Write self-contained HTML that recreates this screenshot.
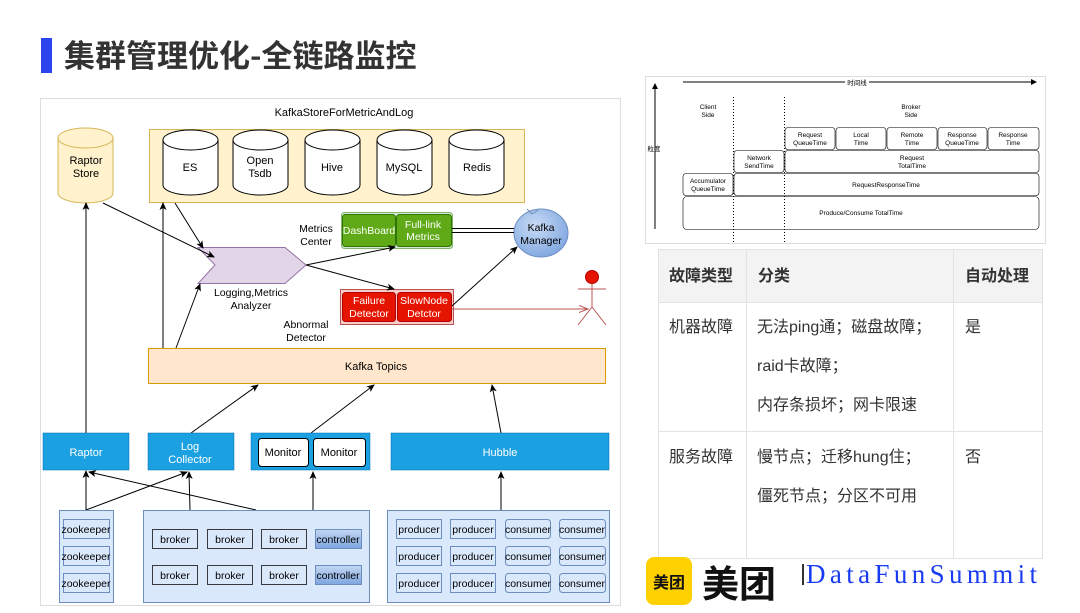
<!DOCTYPE html>
<html><head><meta charset="utf-8"><style>
html,body{margin:0;padding:0;background:#fff;}
body{width:1080px;height:608px;overflow:hidden;position:relative;font-family:"Liberation Sans","Noto Sans CJK SC",sans-serif;}
svg text{font-family:"Liberation Sans","Noto Sans CJK SC",sans-serif;}
</style></head><body>
<svg width="1080" height="608" viewBox="0 0 1080 608" xmlns="http://www.w3.org/2000/svg">
<defs>
<marker id="ah" markerWidth="8" markerHeight="8" refX="7" refY="4" orient="auto" markerUnits="userSpaceOnUse"><path d="M0,0.5 L8,4 L0,7.5 L2,4 z" fill="#000"/></marker>
<marker id="ahr" markerWidth="10" markerHeight="8" refX="9" refY="4" orient="auto" markerUnits="userSpaceOnUse"><path d="M0,0.5 L9,4 L0,7.5" fill="none" stroke="#b85450"/></marker>
<marker id="ahs" markerWidth="6" markerHeight="6" refX="5" refY="3" orient="auto" markerUnits="userSpaceOnUse"><path d="M0,0 L6,3 L0,6 z" fill="#000"/></marker>
<linearGradient id="ctl" x1="0" y1="0" x2="0" y2="1"><stop offset="0" stop-color="#c3d6f2"/><stop offset="1" stop-color="#7ea6e0"/></linearGradient>
<radialGradient id="km" cx="0.4" cy="0.35" r="0.7"><stop offset="0" stop-color="#c9dbf5"/><stop offset="1" stop-color="#7ea6e0"/></radialGradient>
</defs>

<!-- Title -->
<rect x="41" y="38" width="11" height="35" fill="#2c44f0"/>
<text x="64" y="67" font-size="31" font-weight="bold" fill="#333" style="font-family:'Noto Sans CJK SC',sans-serif">集群管理优化-全链路监控</text>

<!-- Left panel -->
<rect x="40.5" y="98.5" width="580" height="507" fill="#fff" stroke="#ddd"/>
<text x="344" y="116" font-size="11" text-anchor="middle">KafkaStoreForMetricAndLog</text>
<rect x="149.5" y="129.5" width="375" height="73" fill="#fff2cc" stroke="#d6b656"/>

<g stroke="#d6b656" fill="#fff2cc">
<path d="M58,138 v55 a27.5,10 0 0 0 55,0 v-55"/>
<ellipse cx="85.5" cy="138" rx="27.5" ry="10"/>
</g>
<text x="86" y="164" font-size="11" text-anchor="middle">Raptor</text>
<text x="86" y="177" font-size="11" text-anchor="middle">Store</text>

<g stroke="#000" fill="#fff">
<path d="M163,140 v45 a27.5,10 0 0 0 55,0 v-45"/><ellipse cx="190.5" cy="140" rx="27.5" ry="10"/>
<path d="M233,140 v45 a27.5,10 0 0 0 55,0 v-45"/><ellipse cx="260.5" cy="140" rx="27.5" ry="10"/>
<path d="M305,140 v45 a27.5,10 0 0 0 55,0 v-45"/><ellipse cx="332.5" cy="140" rx="27.5" ry="10"/>
<path d="M377,140 v45 a27.5,10 0 0 0 55,0 v-45"/><ellipse cx="404.5" cy="140" rx="27.5" ry="10"/>
<path d="M449,140 v45 a27.5,10 0 0 0 55,0 v-45"/><ellipse cx="476.5" cy="140" rx="27.5" ry="10"/>
</g>
<g font-size="11" text-anchor="middle">
<text x="190" y="171">ES</text>
<text x="260" y="164">Open</text><text x="260" y="177">Tsdb</text>
<text x="332" y="171">Hive</text>
<text x="404" y="171">MySQL</text>
<text x="477" y="171">Redis</text>
</g>

<text x="316" y="232" font-size="10.5" text-anchor="middle">Metrics</text>
<text x="316" y="245" font-size="10.5" text-anchor="middle">Center</text>
<rect x="341.5" y="212.5" width="111" height="36" rx="3" fill="#d5e8d4" stroke="#82b366"/>
<rect x="342.5" y="214.5" width="53" height="32" rx="3" fill="#60a917" stroke="#2d7600"/>
<rect x="396.5" y="214.5" width="55" height="32" rx="3" fill="#60a917" stroke="#2d7600"/>
<text x="369" y="234" font-size="10.5" fill="#fff" text-anchor="middle">DashBoard</text>
<text x="423" y="228" font-size="10.5" fill="#fff" text-anchor="middle">Full-link</text>
<text x="423" y="240" font-size="10.5" fill="#fff" text-anchor="middle">Metrics</text>

<ellipse cx="541" cy="233" rx="27" ry="24" fill="url(#km)" stroke="#6c8ebf"/>
<path d="M532,214 l-5,-5 m5,5 l6,-4" stroke="#6c8ebf" fill="none"/>
<text x="541" y="231" font-size="10.5" text-anchor="middle">Kafka</text>
<text x="541" y="244" font-size="10.5" text-anchor="middle">Manager</text>
<line x1="452" y1="228.5" x2="514" y2="228.5" stroke="#000"/>
<line x1="452" y1="232.5" x2="514" y2="232.5" stroke="#000"/>

<path d="M198,247.5 L285,247.5 L306,265 L285,283.5 L198,283.5 L215,265 Z" fill="#e1d5e7" stroke="#9673a6"/>
<text x="251" y="296" font-size="10.5" text-anchor="middle">Logging,Metrics</text>
<text x="251" y="309" font-size="10.5" text-anchor="middle">Analyzer</text>

<rect x="340.5" y="289.5" width="113" height="35" fill="#f8cecc" stroke="#b85450"/>
<rect x="342.5" y="292.5" width="53" height="29" rx="3" fill="#e51400" stroke="#b20000"/>
<rect x="397.5" y="292.5" width="54" height="29" rx="3" fill="#e51400" stroke="#b20000"/>
<text x="369" y="304" font-size="10.5" fill="#fff" text-anchor="middle">Failure</text>
<text x="369" y="317" font-size="10.5" fill="#fff" text-anchor="middle">Detector</text>
<text x="424" y="304" font-size="10.5" fill="#fff" text-anchor="middle">SlowNode</text>
<text x="424" y="317" font-size="10.5" fill="#fff" text-anchor="middle">Detctor</text>
<text x="306" y="328" font-size="10.5" text-anchor="middle">Abnormal</text>
<text x="306" y="341" font-size="10.5" text-anchor="middle">Detector</text>

<circle cx="592" cy="277" r="6.5" fill="#e51400" stroke="#b20000"/>
<g stroke="#b85450" fill="none">
<line x1="592" y1="284" x2="592" y2="307"/>
<line x1="578" y1="289" x2="606" y2="289"/>
<line x1="592" y1="307" x2="578" y2="325"/>
<line x1="592" y1="307" x2="606" y2="325"/>
</g>
<line x1="452" y1="309" x2="588" y2="309" stroke="#b85450" marker-end="url(#ahr)"/>

<rect x="148.5" y="348.5" width="457" height="35" fill="#ffe6cc" stroke="#d79b00"/>
<text x="376" y="370" font-size="11" text-anchor="middle">Kafka Topics</text>

<g stroke="#000" fill="none" marker-end="url(#ah)">
<line x1="86" y1="433" x2="86" y2="203"/>
<line x1="163" y1="348" x2="163" y2="203"/>
<line x1="176" y1="348" x2="200" y2="284"/>
<line x1="103" y1="203" x2="214" y2="257"/>
<line x1="175" y1="203" x2="203" y2="248"/>
<line x1="306" y1="265" x2="395" y2="247"/>
<line x1="306" y1="265" x2="394" y2="289"/>
<line x1="452" y1="306" x2="517" y2="247"/>
<line x1="191" y1="433" x2="258" y2="385"/>
<line x1="311" y1="433" x2="374" y2="385"/>
<line x1="501" y1="433" x2="492" y2="385"/>
</g>

<rect x="43" y="433" width="86" height="37" fill="#1ba1e2" stroke="#006eaf" stroke-width="0.5"/>
<text x="86" y="456" font-size="11" fill="#fff" text-anchor="middle">Raptor</text>
<rect x="148" y="433" width="86" height="37" fill="#1ba1e2" stroke="#006eaf" stroke-width="0.5"/>
<text x="190" y="450" font-size="11" fill="#fff" text-anchor="middle">Log</text>
<text x="190" y="463" font-size="11" fill="#fff" text-anchor="middle">Collector</text>
<rect x="251" y="433" width="119" height="37" fill="#1ba1e2" stroke="#006eaf" stroke-width="0.5"/>
<rect x="258.5" y="438.5" width="50" height="28" rx="3" fill="#fff" stroke="#000"/>
<rect x="313.5" y="438.5" width="52" height="28" rx="3" fill="#fff" stroke="#000"/>
<text x="283" y="456" font-size="11" text-anchor="middle">Monitor</text>
<text x="339" y="456" font-size="11" text-anchor="middle">Monitor</text>
<rect x="391" y="433" width="218" height="37" fill="#1ba1e2" stroke="#006eaf" stroke-width="0.5"/>
<text x="500" y="456" font-size="11" fill="#fff" text-anchor="middle">Hubble</text>

<g stroke="#000" fill="none" marker-end="url(#ah)">
<line x1="86" y1="510" x2="86" y2="471"/>
<line x1="86" y1="510" x2="187" y2="472"/>
<line x1="190" y1="510" x2="189" y2="472"/>
<line x1="256" y1="510" x2="89" y2="472"/>
<line x1="313" y1="510" x2="313" y2="472"/>
<line x1="501" y1="510" x2="501" y2="472"/>
</g>

<rect x="59.5" y="510.5" width="54" height="92" fill="#dae8fc" stroke="#6c8ebf"/>
<rect x="143.5" y="510.5" width="226" height="92" fill="#dae8fc" stroke="#6c8ebf"/>
<rect x="387.5" y="510.5" width="222" height="92" fill="#dae8fc" stroke="#6c8ebf"/>
<g font-size="10.5" text-anchor="middle">
<g fill="#dae8fc" stroke="#6c8ebf">
<rect x="63.5" y="519.5" width="46" height="19"/><rect x="63.5" y="546.5" width="46" height="19"/><rect x="63.5" y="573.5" width="46" height="19"/>
</g>
<text x="86" y="533">zookeeper</text><text x="86" y="560">zookeeper</text><text x="86" y="587">zookeeper</text>
<g fill="#dae8fc" stroke="#36393d">
<rect x="152.5" y="529.5" width="45" height="19"/><rect x="207.5" y="529.5" width="45" height="19"/><rect x="261.5" y="529.5" width="45" height="19"/>
<rect x="152.5" y="565.5" width="45" height="19"/><rect x="207.5" y="565.5" width="45" height="19"/><rect x="261.5" y="565.5" width="45" height="19"/>
</g>
<rect x="315.5" y="529.5" width="46" height="19" fill="url(#ctl)" stroke="#6c8ebf"/>
<rect x="315.5" y="565.5" width="46" height="19" fill="url(#ctl)" stroke="#6c8ebf"/>
<text x="175" y="543">broker</text><text x="230" y="543">broker</text><text x="284" y="543">broker</text><text x="338" y="543">controller</text>
<text x="175" y="579">broker</text><text x="230" y="579">broker</text><text x="284" y="579">broker</text><text x="338" y="579">controller</text>
<g fill="#dae8fc" stroke="#6c8ebf">
<rect x="396.5" y="519.5" width="45" height="19"/><rect x="450.5" y="519.5" width="45" height="19"/><rect x="505.5" y="519.5" width="45" height="19" rx="3"/><rect x="559.5" y="519.5" width="46" height="19" rx="3"/>
<rect x="396.5" y="546.5" width="45" height="19"/><rect x="450.5" y="546.5" width="45" height="19"/><rect x="505.5" y="546.5" width="45" height="19" rx="3"/><rect x="559.5" y="546.5" width="46" height="19" rx="3"/>
<rect x="396.5" y="573.5" width="45" height="19"/><rect x="450.5" y="573.5" width="45" height="19"/><rect x="505.5" y="573.5" width="45" height="19" rx="3"/><rect x="559.5" y="573.5" width="46" height="19" rx="3"/>
</g>
<text x="419" y="533">producer</text><text x="473" y="533">producer</text><text x="528" y="533">consumer</text><text x="582" y="533">consumer</text>
<text x="419" y="560">producer</text><text x="473" y="560">producer</text><text x="528" y="560">consumer</text><text x="582" y="560">consumer</text>
<text x="419" y="587">producer</text><text x="473" y="587">producer</text><text x="528" y="587">consumer</text><text x="582" y="587">consumer</text>
</g>

<!-- Right top diagram -->
<rect x="645.5" y="76.5" width="400" height="167" fill="#fff" stroke="#ddd"/>
<line x1="683" y1="82" x2="1036" y2="82" stroke="#000" marker-end="url(#ahs)"/>
<rect x="845" y="77" width="24" height="9" fill="#fff"/>
<text x="857" y="85" font-size="6.5" text-anchor="middle" style="font-family:'Noto Sans CJK SC',sans-serif">时间线</text>
<line x1="655" y1="229" x2="655" y2="84" stroke="#000" marker-end="url(#ahs)"/>
<text x="654" y="151" font-size="6.5" text-anchor="middle" style="font-family:'Noto Sans CJK SC',sans-serif">粒度</text>
<line x1="733.5" y1="97" x2="733.5" y2="242" stroke="#000" stroke-dasharray="1,2"/>
<line x1="784.5" y1="97" x2="784.5" y2="242" stroke="#000" stroke-dasharray="1,2"/>
<g font-size="6.5" text-anchor="middle">
<text x="708" y="109">Client</text><text x="708" y="117">Side</text>
<text x="911" y="109">Broker</text><text x="911" y="117">Side</text>
<g fill="none" stroke="#000" stroke-width="0.6">
<rect x="785" y="127.5" width="50" height="22" rx="3"/><rect x="836" y="127.5" width="50" height="22" rx="3"/><rect x="887" y="127.5" width="50" height="22" rx="3"/><rect x="938" y="127.5" width="49" height="22" rx="3"/><rect x="988" y="127.5" width="51" height="22" rx="3"/>
<rect x="734" y="150.5" width="50" height="22" rx="3"/><rect x="785" y="150.5" width="254" height="22" rx="3"/>
<rect x="683" y="173.5" width="50" height="22" rx="3"/><rect x="734" y="173.5" width="305" height="22" rx="3"/>
<rect x="683" y="196.5" width="356" height="33" rx="4"/>
</g>
<text x="810" y="137">Request</text><text x="810" y="145">QueueTime</text>
<text x="861" y="137">Local</text><text x="861" y="145">Time</text>
<text x="912" y="137">Remote</text><text x="912" y="145">Time</text>
<text x="962" y="137">Response</text><text x="962" y="145">QueueTime</text>
<text x="1013" y="137">Response</text><text x="1013" y="145">Time</text>
<text x="759" y="160">Network</text><text x="759" y="168">SendTime</text>
<text x="912" y="160">Request</text><text x="912" y="168">TotalTime</text>
<text x="708" y="183">Accumulator</text><text x="708" y="191">QueueTime</text>
<text x="886" y="187">RequestResponseTime</text>
<text x="861" y="215">Produce/Consume TotalTime</text>
</g>

<!-- Table -->
<rect x="658.5" y="249.5" width="384" height="53" fill="#f3f3f3"/>
<g stroke="#e3e3e3" fill="none" stroke-width="1">
<rect x="658.5" y="249.5" width="384" height="309"/>
<line x1="658" y1="302.5" x2="1043" y2="302.5"/>
<line x1="658" y1="431.5" x2="1043" y2="431.5"/>
<line x1="746.5" y1="249" x2="746.5" y2="559"/>
<line x1="953.5" y1="249" x2="953.5" y2="559"/>
</g>
<g font-size="16" fill="#333" style="font-family:'Liberation Sans','Noto Sans CJK SC',sans-serif">
<text x="669" y="281" font-weight="bold">故障类型</text>
<text x="758" y="281" font-weight="bold">分类</text>
<text x="965" y="281" font-weight="bold">自动处理</text>
<text x="669" y="332">机器故障</text>
<text x="757" y="332">无法ping通；磁盘故障；</text>
<text x="757" y="371">raid卡故障；</text>
<text x="757" y="410">内存条损坏；网卡限速</text>
<text x="965" y="332">是</text>
<text x="669" y="462">服务故障</text>
<text x="757" y="462">慢节点；迁移hung住；</text>
<text x="757" y="501">僵死节点；分区不可用</text>
<text x="965" y="462">否</text>
</g>

<!-- Logo -->
<rect x="646" y="557" width="46" height="48" rx="8" fill="#ffd100"/>
<text x="669" y="588" font-size="16" font-weight="bold" text-anchor="middle" fill="#111" style="font-family:'Noto Sans CJK SC',sans-serif">美团</text>
<text x="739" y="597" font-size="37" font-weight="bold" text-anchor="middle" fill="#111" style="font-family:'Noto Sans CJK SC',sans-serif">美团</text>
<rect x="802" y="564" width="2" height="21" fill="#333"/>
<text x="806" y="583" font-size="27" fill="#1a3cf0" textLength="231" style="font-family:'Liberation Serif',serif">DataFunSummit</text>
</svg>
</body></html>
